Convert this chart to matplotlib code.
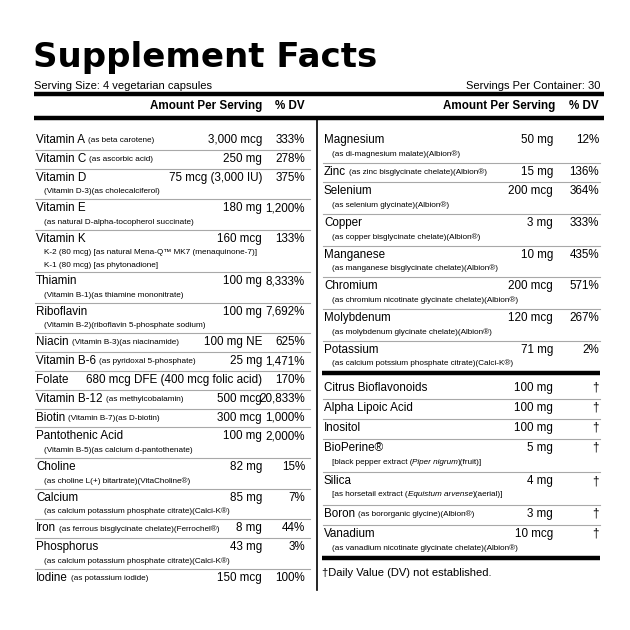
import matplotlib
matplotlib.use("Agg")
import matplotlib.pyplot as plt

FAM = ['Liberation Sans', 'DejaVu Sans']

left_names = ["Vitamin A", "Vitamin C", "Vitamin D", "Vitamin E", "Vitamin K", "Thiamin", "Riboflavin",
              "Niacin", "Vitamin B-6", "Folate", "Vitamin B-12", "Biotin", "Pantothenic Acid", "Choline",
              "Calcium", "Iron", "Phosphorus", "Iodine"]
left_inline = ["(as beta carotene)", "(as ascorbic acid)", "", "", "", "", "",
               "(Vitamin B-3)(as niacinamide)", "(as pyridoxal 5-phosphate)", "", "(as methylcobalamin)",
               "(Vitamin B-7)(as D-biotin)", "", "", "", "(as ferrous bisglycinate chelate)(Ferrochel®)", "",
               "(as potassium iodide)"]
left_sub = [[], [], ["(Vitamin D-3)(as cholecalciferol)"], ["(as natural D-alpha-tocopherol succinate)"],
            ["K-2 (80 mcg) [as natural Mena-Q™ MK7 (menaquinone-7)]", "K-1 (80 mcg) [as phytonadione]"],
            ["(Vitamin B-1)(as thiamine mononitrate)"], ["(Vitamin B-2)(riboflavin 5-phosphate sodium)"],
            [], [], [], [], [], ["(Vitamin B-5)(as calcium d-pantothenate)"],
            ["(as choline L(+) bitartrate)(VitaCholine®)"],
            ["(as calcium potassium phosphate citrate)(Calci-K®)"], [],
            ["(as calcium potassium phosphate citrate)(Calci-K®)"], []]
left_amounts = ["3,000 mcg", "250 mg", "75 mcg (3,000 IU)", "180 mg", "160 mcg", "100 mg", "100 mg",
                "100 mg NE", "25 mg", "680 mcg DFE (400 mcg folic acid)", "500 mcg", "300 mcg", "100 mg",
                "82 mg", "85 mg", "8 mg", "43 mg", "150 mcg"]
left_dv = ["333%", "278%", "375%", "1,200%", "133%", "8,333%", "7,692%", "625%", "1,471%", "170%",
           "20,833%", "1,000%", "2,000%", "15%", "7%", "44%", "3%", "100%"]

right_names = ["Magnesium", "Zinc", "Selenium", "Copper", "Manganese", "Chromium", "Molybdenum", "Potassium"]
right_inline = ["", "(as zinc bisglycinate chelate)(Albion®)", "", "", "", "", "", ""]
right_sub = [["(as di-magnesium malate)(Albion®)"], [], ["(as selenium glycinate)(Albion®)"],
             ["(as copper bisglycinate chelate)(Albion®)"], ["(as manganese bisglycinate chelate)(Albion®)"],
             ["(as chromium nicotinate glycinate chelate)(Albion®)"],
             ["(as molybdenum glycinate chelate)(Albion®)"],
             ["(as calcium potssium phosphate citrate)(Calci-K®)"]]
right_amounts = ["50 mg", "15 mg", "200 mcg", "3 mg", "10 mg", "200 mcg", "120 mcg", "71 mg"]
right_dv = ["12%", "136%", "364%", "333%", "435%", "571%", "267%", "2%"]

other_names = ["Citrus Bioflavonoids", "Alpha Lipoic Acid", "Inositol", "BioPerine®", "Silica", "Boron", "Vanadium"]
other_inline = ["", "", "", "", "", "(as bororganic glycine)(Albion®)", ""]
other_sub = [[], [], [], ["[black pepper extract (*Piper nigrum*)(fruit)]"],
             ["[as horsetail extract (*Equistum arvense*)(aerial)]"], [],
             ["(as vanadium nicotinate glycinate chelate)(Albion®)"]]
other_amounts = ["100 mg", "100 mg", "100 mg", "5 mg", "4 mg", "3 mg", "10 mcg"]
other_dv = ["†", "†", "†", "†", "†", "†", "†"]

fig = plt.figure(figsize=(6.3, 6.3), dpi=100)
ax = fig.add_axes([0, 0, 1, 1])
ax.set_xlim(0, 630)
ax.set_ylim(630, 0)
ax.axis('off')
fig.canvas.draw()
R = fig.canvas.get_renderer()

MAIN = 8.4
SMALL = 5.9


def width_px(t):
    return t.get_window_extent(R).width


def txt(x, y, s, size, **kw):
    return ax.text(x, y, s, fontsize=size, family=FAM, va='center', **kw)


def seg_text(x, y, s, size):
    parts = s.split('*')
    for i, p in enumerate(parts):
        if not p:
            continue
        t = txt(x, y, p, size, style='italic' if i % 2 else 'normal')
        x += width_px(t)


def column(x0, x1, xamt, xdv, y0, names, inline, subs, amts, dvs, base, step):
    y = y0
    n = len(names)
    for i in range(n):
        t = txt(x0, y, names[i], MAIN, fontweight='medium')
        if inline[i]:
            txt(x0 + width_px(t) + 3, y + 0.5, inline[i], SMALL)
        txt(xamt, y, amts[i], MAIN, ha='right')
        txt(xdv, y, dvs[i], MAIN, ha='right')
        for k, s in enumerate(subs[i]):
            seg_text(x0 + 8, y + 14 + 12.5 * k, s, SMALL)
        ny = y + base + step * len(subs[i])
        if i < n - 1:
            ax.plot([x0 - 1, x1], [ny - 9, ny - 9], color='#a8a8a8', lw=0.8)
        y = ny
    return y


# title & header
ax.text(33, 58, "Supplement Facts", fontsize=24.5, fontweight='bold', family=['DejaVu Sans'],
        va='center')
txt(34, 86, "Serving Size: 4 vegetarian capsules", 8.0)
txt(600, 86, "Servings Per Container: 30", 8.0, ha='right')
ax.plot([34, 604], [94, 94], color='black', lw=3.2, solid_capstyle='butt')
txt(262, 106, "Amount Per Serving", 8.4, ha='right', fontweight='bold')
txt(305, 106, "% DV", 8.4, ha='right', fontweight='bold')
txt(555, 106, "Amount Per Serving", 8.4, ha='right', fontweight='bold')
txt(599, 106, "% DV", 8.4, ha='right', fontweight='bold')
ax.plot([34, 604], [118, 118], color='black', lw=3.2, solid_capstyle='butt')
ax.plot([317, 317], [118, 590], color='black', lw=1.2)

column(36, 310, 262, 305, 140, left_names, left_inline, left_sub, left_amounts, left_dv, 18.8, 11.8)
column(324, 600, 553, 599, 140, right_names, right_inline, right_sub, right_amounts, right_dv, 19.4, 12.3)
ax.plot([322, 600], [373, 373], color='black', lw=3.2, solid_capstyle='butt')
column(324, 600, 553, 599, 388, other_names, other_inline, other_sub, other_amounts, other_dv, 20.0, 13.0)
ax.plot([322, 600], [558, 558], color='black', lw=3.2, solid_capstyle='butt')
txt(322, 573, "†Daily Value (DV) not established.", 8.0)

fig.savefig("out.png", dpi=100, facecolor='white')
